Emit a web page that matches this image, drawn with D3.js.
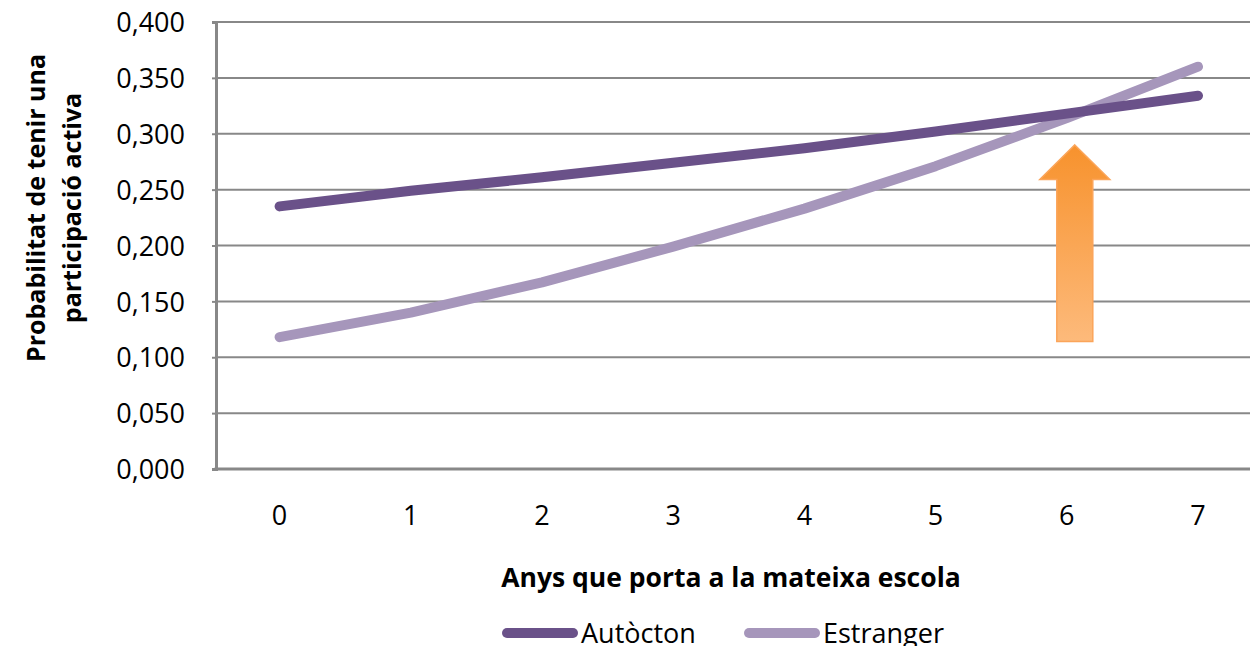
<!DOCTYPE html>
<html>
<head>
<meta charset="utf-8">
<script src="https://cdn.jsdelivr.net/npm/d3@7"></script>
<style>
  body { margin: 0; background: #fff; }
  text { font-family: "Open Sans", "Liberation Sans", sans-serif; }
</style>
</head>
<body>
<div id="container"></div>
<script>
// dades
let anys = [0, 1, 2, 3, 4, 5, 6, 7];
let autocton = [0.235, 0.249, 0.261, 0.274, 0.287, 0.302, 0.318, 0.334];
let estranger = [0.118, 0.140, 0.167, 0.199, 0.233, 0.271, 0.314, 0.360];
let yTicks = [0, 0.05, 0.1, 0.15, 0.2, 0.25, 0.3, 0.35, 0.4];
let series = [
  { name: 'Autòcton', values: autocton, color: '#6A5189' },
  { name: 'Estranger', values: estranger, color: '#A696BB' }
];

let width = 1250;
let height = 646;
let margin = { top: 22, left: 216, bottom: 177 };

let svg = d3.create('svg').attr('width', width).attr('height', height);

let x = d3.scaleBand().domain(anys).range([margin.left, margin.left + 8 * 131.2]);
let y = d3.scaleLinear().domain([0, 0.4]).range([height - margin.bottom, margin.top]);
let fmt = d => d3.format('.3f')(d).replace('.', ',');

// linies de graella
svg.append('g')
  .selectAll('line')
  .data(yTicks)
  .enter()
  .append('line')
  .attr('x1', margin.left)
  .attr('x2', width)
  .attr('y1', d => y(d))
  .attr('y2', d => y(d))
  .attr('stroke', '#888')
  .attr('stroke-width', 2);

// eix Y
let yAxis = svg.append('g')
  .attr('transform', `translate(${margin.left},0)`)
  .call(d3.axisLeft(y).tickValues(yTicks).tickFormat(fmt).tickSize(4).tickPadding(27));
yAxis.select('.domain').attr('stroke', '#888').attr('stroke-width', 3);
yAxis.selectAll('.tick line').attr('stroke', '#888').attr('stroke-width', 2);
yAxis.selectAll('.tick text')
  .attr('font-size', 27)
  .attr('dy', '0.36em')
  .attr('fill', '#000')
  .style('font-family', '"Open Sans", sans-serif');

// eix X
svg.append('line')
  .attr('x1', margin.left - 1.5)
  .attr('x2', width)
  .attr('y1', y(0))
  .attr('y2', y(0))
  .attr('stroke', '#888')
  .attr('stroke-width', 3);

svg.append('g')
  .selectAll('text')
  .data(anys)
  .enter()
  .append('text')
  .attr('x', d => x(d) + x.bandwidth() / 2 - 2)
  .attr('y', 525)
  .attr('text-anchor', 'middle')
  .attr('font-size', 27)
  .text(d => d);

// línies
let line = d3.line()
  .x((d, i) => x(anys[i]) + x.bandwidth() / 2 - 2)
  .y(d => y(d));

svg.append('g')
  .selectAll('path')
  .data(series.slice().reverse())
  .enter()
  .append('path')
  .attr('d', d => line(d.values))
  .attr('fill', 'none')
  .attr('stroke', d => d.color)
  .attr('stroke-width', 10)
  .attr('stroke-linecap', 'round')
  .attr('stroke-linejoin', 'round');

// fletxa
let defs = svg.append('defs');
let grad = defs.append('linearGradient')
  .attr('id', 'arrowGrad')
  .attr('x1', 0).attr('y1', 0).attr('x2', 0).attr('y2', 1);
grad.append('stop').attr('offset', '0%').attr('stop-color', '#F7922D');
grad.append('stop').attr('offset', '100%').attr('stop-color', '#FDBA7B');

let ax = x(6) + x.bandwidth() / 2 + 6;
let tipY = y(0.290);
let headY = y(0.259);
let baseY = y(0.114);
svg.append('path')
  .attr('d', [
    [ax, tipY], [ax + 35, headY], [ax + 18, headY], [ax + 18, baseY],
    [ax - 18, baseY], [ax - 18, headY], [ax - 35, headY]
  ].map((p, i) => (i ? 'L' : 'M') + p[0] + ',' + p[1]).join('') + 'Z')
  .attr('fill', 'url(#arrowGrad)')
  .attr('stroke', '#FBA55A')
  .attr('stroke-width', 1.5);

// títols d'eixos
svg.append('text')
  .attr('x', 731)
  .attr('y', 587)
  .attr('text-anchor', 'middle')
  .attr('font-size', 26.5)
  .attr('font-weight', 'bold')
  .text('Anys que porta a la mateixa escola');

let yTitle = svg.append('text')
  .attr('transform', 'translate(0,208) rotate(-90)')
  .attr('text-anchor', 'middle')
  .attr('font-size', 25)
  .attr('font-weight', 'bold');
yTitle.append('tspan').attr('x', 0).attr('y', 45).text('Probabilitat de tenir una');
yTitle.append('tspan').attr('x', 0).attr('y', 81).text('participació  activa');

// llegenda
let legendX = [503, 745];
let legend = svg.append('g')
  .selectAll('g')
  .data(series)
  .enter()
  .append('g')
  .attr('transform', (d, i) => `translate(${legendX[i]},633)`);
legend.append('line')
  .attr('x1', 4).attr('x2', 70)
  .attr('stroke', d => d.color)
  .attr('stroke-width', 10)
  .attr('stroke-linecap', 'round');
legend.append('text')
  .attr('x', 78)
  .attr('y', 10)
  .attr('font-size', 27)
  .text(d => d.name);

d3.select('#container').append(() => svg.node());
</script>
</body>
</html>
